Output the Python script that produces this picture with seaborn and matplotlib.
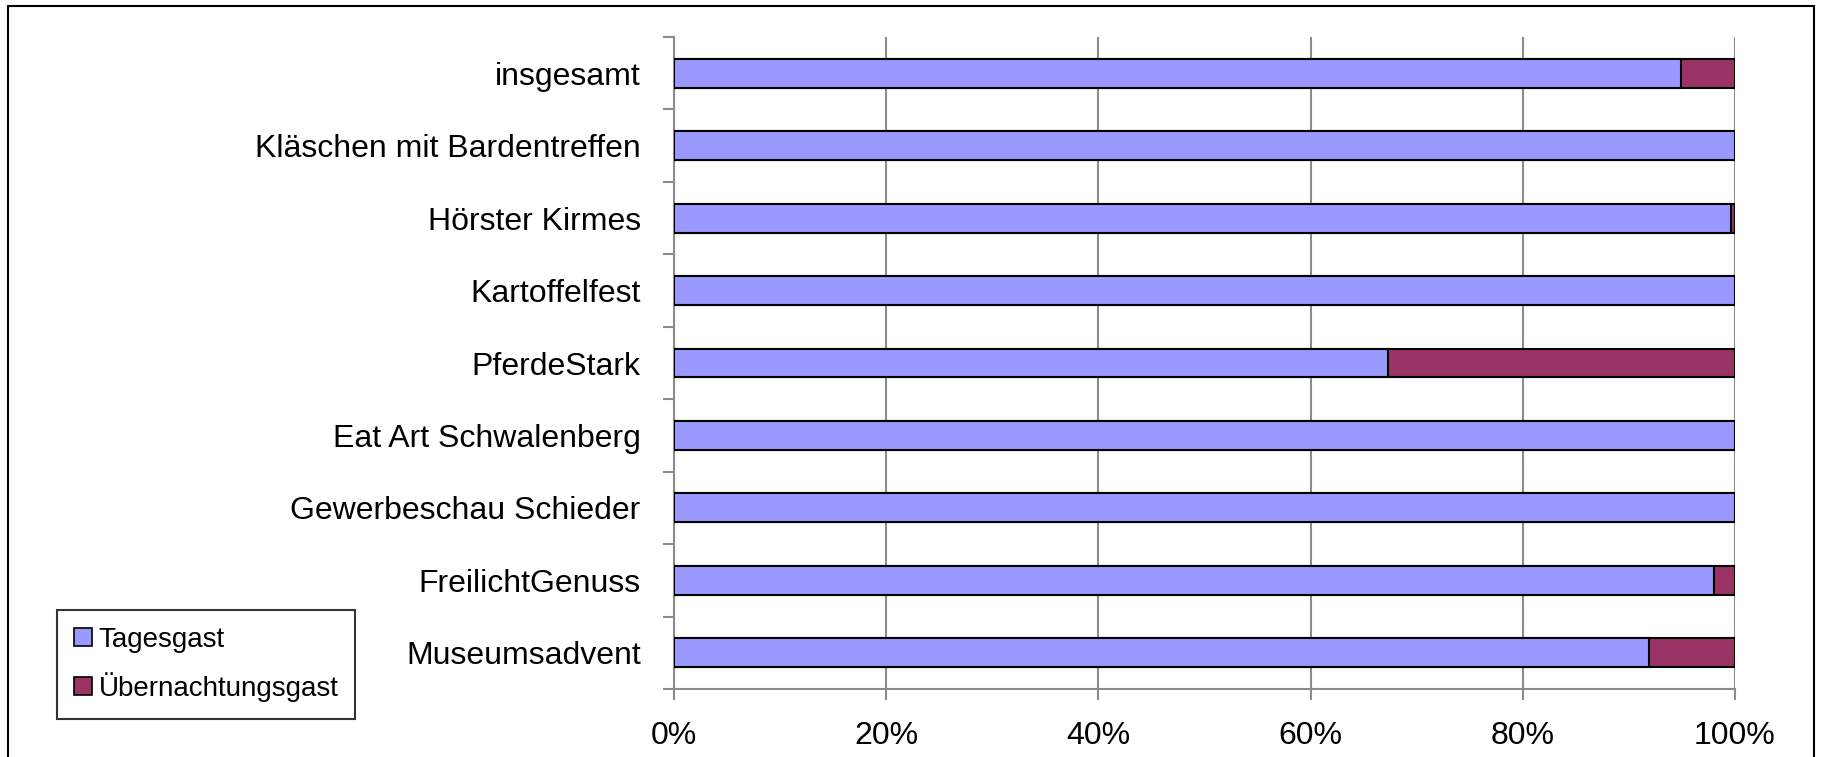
import numpy as np
import pandas as pd
import matplotlib
matplotlib.use("Agg")
import matplotlib.pyplot as plt
import seaborn as sns
from matplotlib.patches import Patch, Rectangle

# data (percent)
events = ["insgesamt", "Kläschen mit Bardentreffen", "Hörster Kirmes", "Kartoffelfest",
          "PferdeStark", "Eat Art Schwalenberg", "Gewerbeschau Schieder",
          "FreilichtGenuss", "Museumsadvent"]
tagesgast = [94.9, 100.0, 99.6, 100.0, 67.3, 100.0, 100.0, 98.0, 91.9]
uebernachtung = [5.1, 0.0, 0.4, 0.0, 32.7, 0.0, 0.0, 2.0, 8.1]
xticks = [0, 20, 40, 60, 80, 100]
xticklabels = ["0%", "20%", "40%", "60%", "80%", "100%"]

c_tag = "#9999FF"
c_ueb = "#993366"
grid_c = "#8C8C8C"

df = pd.DataFrame({"event": events, "Tagesgast": tagesgast,
                   "Übernachtungsgast": uebernachtung})
df["total"] = df["Tagesgast"] + df["Übernachtungsgast"]

sns.set_style("white")
plt.rcParams["font.family"] = ["Liberation Sans", "DejaVu Sans"]
plt.rcParams["text.color"] = "black"
plt.rcParams["xtick.color"] = "black"
plt.rcParams["ytick.color"] = "black"

fig = plt.figure(figsize=(18.21, 7.57), dpi=100)
ax = fig.add_axes([674 / 1821, 1 - 689 / 757, (1735 - 674) / 1821, (689 - 37) / 757])

# stacked bars: total first (Übernachtungsgast colour), then Tagesgast on top
sns.barplot(data=df, x="total", y="event", order=events, color=c_ueb, orient="h",
            width=0.4, edgecolor="black", linewidth=1.5, saturation=1, ax=ax, zorder=3)
sns.barplot(data=df, x="Tagesgast", y="event", order=events, color=c_tag, orient="h",
            width=0.4, edgecolor="black", linewidth=1.5, saturation=1, ax=ax, zorder=4)

ax.set_xlim(0, 100)
ax.set_ylim(len(events) - 0.5, -0.5)
ax.set_xticks(xticks)
ax.set_xticklabels(xticklabels, fontsize=23)
ax.set_yticks(np.arange(len(events)))
ax.set_yticklabels(events, fontsize=23)
ax.set_yticks(np.arange(-0.5, len(events), 1), minor=True)
ax.set_xlabel("")
ax.set_ylabel("")

ax.tick_params(axis="y", which="major", length=0, pad=24, labelcolor="black")
ax.tick_params(axis="y", which="minor", length=8, width=1.5, color=grid_c, left=True)
ax.tick_params(axis="x", which="major", length=8, width=1.5, color=grid_c, bottom=True,
               pad=15, labelcolor="black")

ax.grid(axis="x", color=grid_c, linewidth=1.5, zorder=0)
ax.set_axisbelow(True)
for side in ["top", "right"]:
    ax.spines[side].set_visible(False)
for side in ["left", "bottom"]:
    ax.spines[side].set_color(grid_c)
    ax.spines[side].set_linewidth(1.5)

handles = [Patch(facecolor=c_tag, edgecolor="black", linewidth=1.2, label="Tagesgast"),
           Patch(facecolor=c_ueb, edgecolor="black", linewidth=1.2, label="Übernachtungsgast")]
leg = fig.legend(handles=handles, loc="upper left", bbox_to_anchor=(57 / 1821, 1 - 610 / 757),
                 fontsize=20, frameon=True, fancybox=False, handlelength=0.65,
                 handleheight=0.6, handletextpad=0.25, labelspacing=0.7,
                 borderpad=0.6, borderaxespad=0)
leg.get_frame().set_edgecolor("black")
leg.get_frame().set_linewidth(1.5)
for t in leg.get_texts():
    t.set_color("black")

# outer chart frame
fig.patches.append(Rectangle((8 / 1821, -0.1), (1814 - 8) / 1821, 1.1 - 6 / 757,
                             transform=fig.transFigure, fill=False,
                             edgecolor="black", linewidth=1.5))

fig.savefig("out.png", dpi=100)
